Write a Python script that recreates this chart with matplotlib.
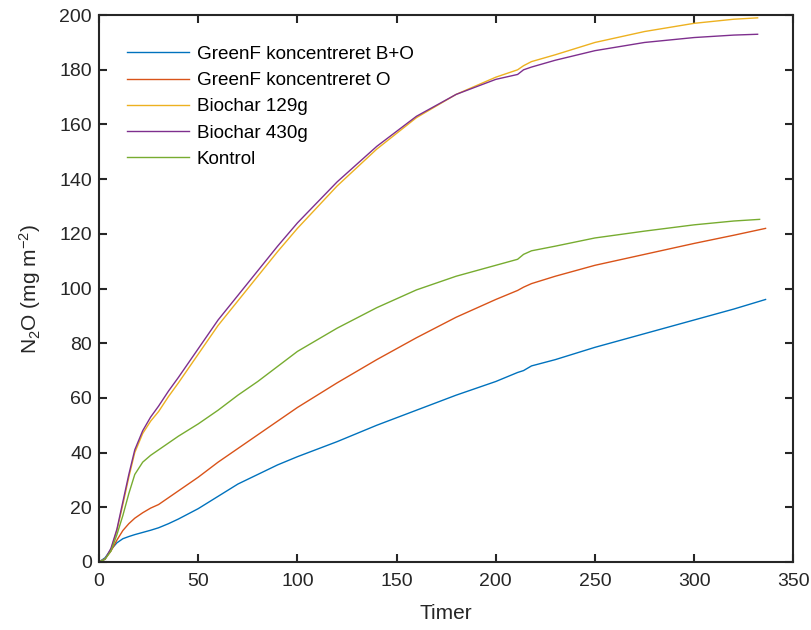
import matplotlib
matplotlib.use("Agg")
import matplotlib.pyplot as plt

plt.rcParams['font.family'] = ['Liberation Sans', 'DejaVu Sans']
plt.rcParams['mathtext.default'] = 'regular'

# tid (timer) og kumuleret N2O for hver behandling
t_bo = [0, 3, 6, 9, 12, 15, 18, 22, 26, 30, 35, 40, 50, 60, 70, 80, 90, 100, 120, 140, 160, 180, 200, 211, 214, 218, 230, 250, 275, 300, 320, 336]
greenf_bo = [0, 1.5, 4.5, 7, 8.5, 9.3, 10, 10.8, 11.6, 12.5, 14, 15.7, 19.5, 24, 28.5, 32, 35.5, 38.5, 44, 50, 55.5, 61, 66, 69.3, 70, 71.7, 74, 78.5, 83.5, 88.5, 92.5, 96]

t_o = [0, 3, 6, 9, 12, 15, 18, 22, 26, 30, 35, 40, 50, 60, 70, 80, 90, 100, 120, 140, 160, 180, 200, 211, 214, 218, 230, 250, 275, 300, 320, 336]
greenf_o = [0, 1.2, 4, 8, 11.5, 14, 16, 18, 19.7, 21, 23.5, 26, 31, 36.5, 41.5, 46.5, 51.5, 56.5, 65.5, 74, 82, 89.5, 96, 99.3, 100.5, 101.8, 104.5, 108.5, 112.5, 116.5, 119.5, 122]

t_bc = [0, 3, 6, 9, 12, 15, 18, 22, 26, 30, 35, 40, 50, 60, 70, 80, 90, 100, 120, 140, 160, 180, 200, 211, 214, 218, 230, 250, 275, 300, 320, 332]
biochar_129 = [0, 1, 4.5, 11.5, 21, 31, 40, 47, 51.5, 55, 60.5, 65.5, 76, 86.5, 95.5, 104.5, 113.5, 122, 137.5, 151, 162.5, 171, 177.3, 180, 181.5, 183, 185.5, 190, 194, 197, 198.5, 199]
biochar_430 = [0, 1, 5, 12, 22, 32, 41, 48, 53, 57, 62.5, 67.5, 78, 88.5, 97.5, 106.5, 115.5, 124, 139, 152, 163, 171, 176.5, 178.3, 180, 181, 183.5, 187, 190, 191.8, 192.7, 193]

t_k = [0, 3, 6, 9, 12, 15, 18, 22, 26, 30, 35, 40, 50, 60, 70, 80, 90, 100, 120, 140, 160, 180, 200, 211, 214, 218, 230, 250, 275, 300, 320, 333]
kontrol = [0, 1, 4, 10, 17, 25, 32, 36.5, 39, 41, 43.5, 46, 50.5, 55.5, 61, 66, 71.5, 77, 85.5, 93, 99.5, 104.5, 108.5, 110.7, 112.5, 113.8, 115.5, 118.5, 121, 123.3, 124.7, 125.3]

series = [
    (t_bo, greenf_bo, 'GreenF koncentreret B+O', '#0072BD'),
    (t_o, greenf_o, 'GreenF koncentreret O', '#D95319'),
    (t_bc, biochar_129, 'Biochar 129g', '#EDB120'),
    (t_bc, biochar_430, 'Biochar 430g', '#7E2F8E'),
    (t_k, kontrol, 'Kontrol', '#77AC30'),
]

fig = plt.figure(figsize=(8.12, 6.3), dpi=100)
ax = fig.add_axes([0.122, 0.108, 0.855, 0.868])

for t, y, name, col in series:
    ax.plot(t, y, color=col, lw=1.0, label=name)

ax.set_xlim(0, 350)
ax.set_ylim(0, 200)
ax.set_xticks(range(0, 351, 50))
ax.set_yticks(range(0, 201, 20))

axcol = '#262626'
for sp in ax.spines.values():
    sp.set_color(axcol)
    sp.set_linewidth(1.5)
ax.tick_params(direction='in', length=6, width=1.5, color=axcol, labelcolor=axcol,
               labelsize=14, top=True, right=True)
ax.tick_params(axis='x', pad=8)
ax.tick_params(axis='y', pad=5)

ax.set_xlabel('Timer', fontsize=15, color=axcol, labelpad=10)
ax.set_ylabel('N$_2$O (mg m$^{-2}$)', fontsize=15, color=axcol, labelpad=12)

leg = ax.legend(loc='upper left', frameon=False, fontsize=13.6, handlelength=3.3,
                handletextpad=0.4, labelspacing=0.48, borderaxespad=0,
                bbox_to_anchor=(0.029, 0.958))
for txt in leg.get_texts():
    txt.set_color('black')

fig.savefig('out.png', dpi=100)
